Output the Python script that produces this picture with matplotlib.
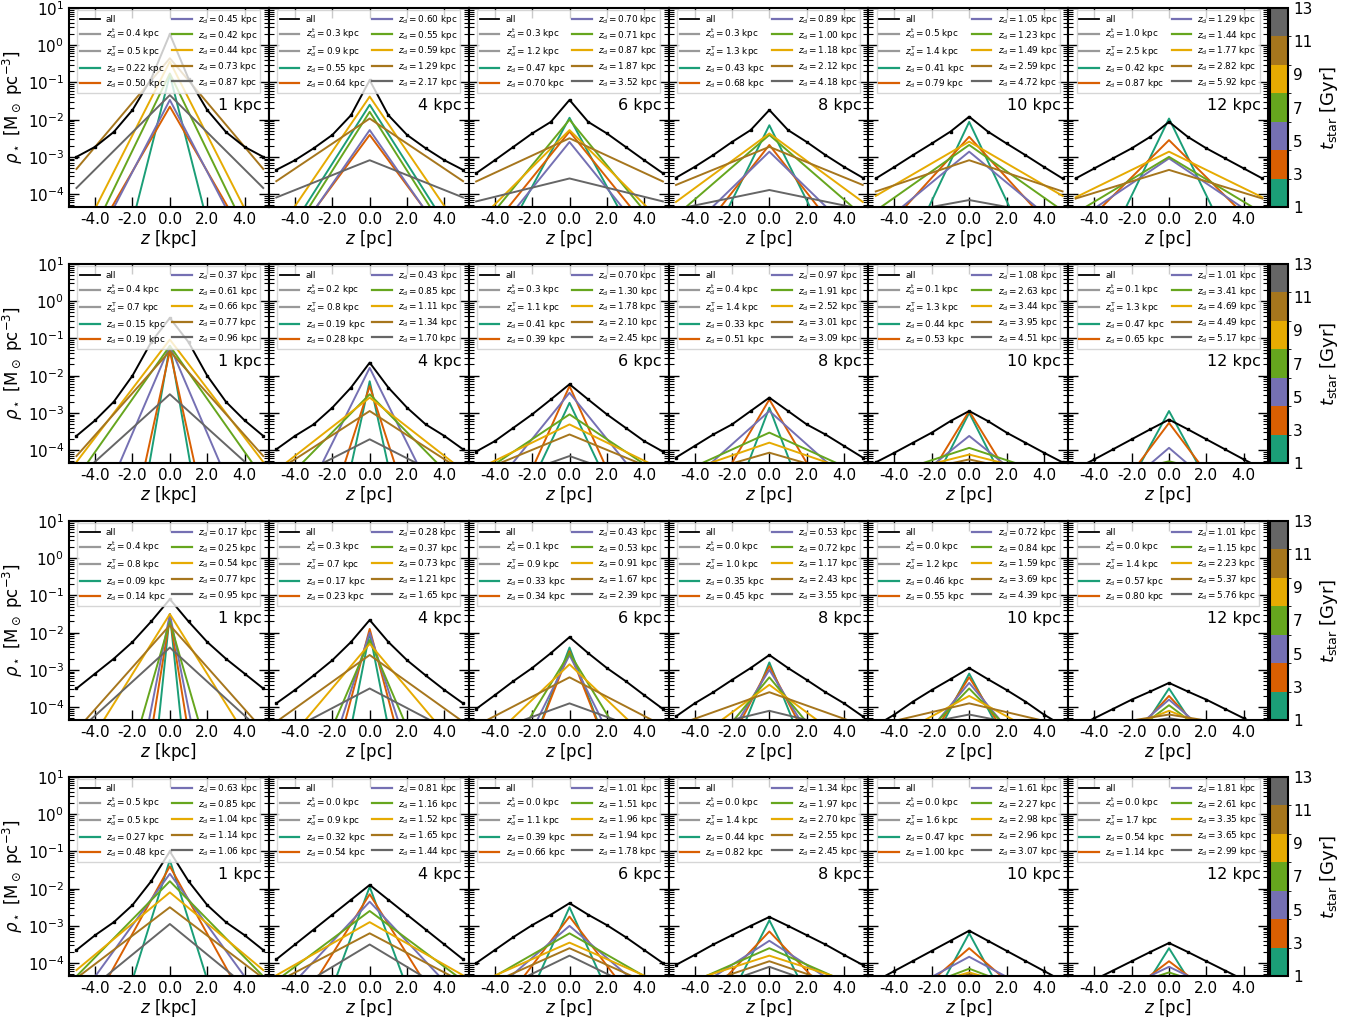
import numpy as np
import matplotlib.pyplot as plt
import matplotlib as mpl
from matplotlib.lines import Line2D
from matplotlib.colors import ListedColormap, BoundaryNorm
from matplotlib.ticker import LogLocator, FormatStrFormatter, NullFormatter

# couleurs des tranches d'age (Dark2)
age_colors = ["#1b9e77", "#d95f02", "#7570b3", "#66a61e", "#e6ab02", "#a6761d", "#666666"]
fit_gray = "#999999"
age_edges = [1, 2.714, 4.429, 6.143, 7.857, 9.571, 11.286, 13]
age_ticks = [1, 3, 5, 7, 9, 11, 13]

radii = ["1 kpc", "4 kpc", "6 kpc", "8 kpc", "10 kpc", "12 kpc"]

# echelles de hauteur fine / epaisse (legende)
zt_thin = [
    [0.4, 0.3, 0.3, 0.3, 0.5, 1.0],
    [0.4, 0.2, 0.3, 0.4, 0.1, 0.1],
    [0.4, 0.3, 0.1, 0.0, 0.0, 0.0],
    [0.5, 0.0, 0.0, 0.0, 0.0, 0.0],
]
zt_thick = [
    [0.5, 0.9, 1.2, 1.3, 1.4, 2.5],
    [0.7, 0.8, 1.1, 1.4, 1.3, 1.3],
    [0.8, 0.7, 0.9, 1.0, 1.2, 1.4],
    [0.5, 0.9, 1.1, 1.4, 1.6, 1.7],
]

# z_d par tranche d'age [kpc]
zd_row1 = [
    [0.22, 0.50, 0.45, 0.42, 0.44, 0.73, 0.87],
    [0.55, 0.64, 0.60, 0.55, 0.59, 1.29, 2.17],
    [0.47, 0.70, 0.70, 0.71, 0.87, 1.87, 3.52],
    [0.43, 0.68, 0.89, 1.00, 1.18, 2.12, 4.18],
    [0.41, 0.79, 1.05, 1.23, 1.49, 2.59, 4.72],
    [0.42, 0.87, 1.29, 1.44, 1.77, 2.82, 5.92],
]
zd_row2 = [
    [0.15, 0.19, 0.37, 0.61, 0.66, 0.77, 0.96],
    [0.19, 0.28, 0.43, 0.85, 1.11, 1.34, 1.70],
    [0.41, 0.39, 0.70, 1.30, 1.78, 2.10, 2.45],
    [0.33, 0.51, 0.97, 1.91, 2.52, 3.01, 3.09],
    [0.44, 0.53, 1.08, 2.63, 3.44, 3.95, 4.51],
    [0.47, 0.65, 1.01, 3.41, 4.69, 4.49, 5.17],
]
zd_row3 = [
    [0.09, 0.14, 0.17, 0.25, 0.54, 0.77, 0.95],
    [0.17, 0.23, 0.28, 0.37, 0.73, 1.21, 1.65],
    [0.33, 0.34, 0.43, 0.53, 0.91, 1.67, 2.39],
    [0.35, 0.45, 0.53, 0.72, 1.17, 2.43, 3.55],
    [0.46, 0.55, 0.72, 0.84, 1.59, 3.69, 4.39],
    [0.57, 0.80, 1.01, 1.15, 2.23, 5.37, 5.76],
]
zd_row4 = [
    [0.27, 0.48, 0.63, 0.85, 1.04, 1.14, 1.06],
    [0.32, 0.54, 0.81, 1.16, 1.52, 1.65, 1.44],
    [0.39, 0.66, 1.01, 1.51, 1.96, 1.94, 1.78],
    [0.44, 0.82, 1.34, 1.97, 2.70, 2.55, 2.45],
    [0.47, 1.00, 1.61, 2.27, 2.98, 2.96, 3.07],
    [0.54, 1.14, 1.81, 2.61, 3.35, 3.65, 2.99],
]

# log10 de la densite centrale par tranche d'age
peak_row1 = [
    [-0.8, -1.65, -1.47, -0.76, -0.44, -0.35, -1.34],
    [-1.6, -2.41, -2.28, -1.79, -1.38, -1.97, -3.09],
    [-1.95, -2.32, -2.60, -2.00, -2.28, -2.50, -3.58],
    [-2.15, -2.68, -2.86, -2.41, -2.37, -2.73, -3.89],
    [-2.06, -2.46, -2.86, -2.68, -2.59, -3.09, -4.16],
    [-1.97, -2.55, -3.04, -3.00, -2.86, -3.35, -4.50],
]
peak_row2 = [
    [-1.20, -1.34, -1.20, -1.20, -1.03, -1.34, -2.50],
    [-2.15, -2.28, -1.79, -2.50, -2.59, -2.95, -3.71],
    [-2.73, -2.28, -2.46, -3.04, -3.31, -3.58, -4.16],
    [-2.86, -2.64, -2.95, -3.53, -3.80, -4.07, -4.50],
    [-3.00, -2.95, -3.62, -3.94, -4.12, -4.25, -4.50],
    [-2.95, -3.27, -3.94, -4.30, -4.50, -4.50, -4.60],
]
peak_row3 = [
    [-1.50, -1.60, -1.50, -1.70, -1.50, -1.80, -2.40],
    [-2.00, -1.90, -2.00, -2.20, -2.30, -2.60, -3.50],
    [-2.40, -2.50, -2.60, -2.55, -2.85, -3.20, -3.90],
    [-2.80, -2.90, -3.00, -3.20, -3.40, -3.60, -4.10],
    [-3.10, -3.20, -3.35, -3.50, -3.70, -3.90, -4.20],
    [-3.50, -3.70, -3.80, -3.95, -4.10, -4.20, -4.30],
]
peak_row4 = [
    [-1.23, -1.40, -1.60, -1.80, -2.10, -2.50, -2.95],
    [-1.95, -2.15, -2.35, -2.60, -2.90, -3.20, -3.50],
    [-2.50, -2.75, -3.00, -3.20, -3.45, -3.60, -3.80],
    [-2.85, -3.15, -3.40, -3.60, -3.80, -3.95, -4.10],
    [-3.20, -3.60, -3.83, -4.15, -4.25, -4.30, -4.40],
    [-3.60, -3.95, -4.10, -4.25, -4.35, -4.40, -4.50],
]

# profil "all" : log10 rho a |z| = 0, 1, 2, 3, 4, 5 kpc
z_all = [0, 1, 2, 3, 4, 5]
all_row1 = [
    [0.30, -0.90, -1.74, -2.33, -2.73, -3.00],
    [-0.94, -1.88, -2.41, -2.77, -3.09, -3.35],
    [-1.47, -2.06, -2.37, -2.73, -3.09, -3.44],
    [-1.74, -2.28, -2.60, -2.95, -3.27, -3.56],
    [-1.92, -2.32, -2.64, -2.95, -3.27, -3.58],
    [-2.06, -2.46, -2.77, -3.04, -3.31, -3.58],
]
all_row2 = [
    [-0.45, -1.10, -2.00, -2.70, -3.20, -3.62],
    [-1.65, -2.32, -2.86, -3.31, -3.62, -3.98],
    [-2.23, -2.64, -3.04, -3.40, -3.76, -4.04],
    [-2.59, -2.95, -3.31, -3.58, -3.89, -4.20],
    [-2.95, -3.22, -3.53, -3.80, -4.07, -4.33],
    [-3.18, -3.44, -3.71, -3.98, -4.25, -4.50],
]
all_row3 = [
    [-1.10, -1.70, -2.25, -2.70, -3.10, -3.50],
    [-1.66, -2.25, -2.74, -3.15, -3.54, -3.90],
    [-2.12, -2.55, -2.95, -3.30, -3.68, -4.05],
    [-2.60, -2.95, -3.27, -3.60, -3.90, -4.25],
    [-2.95, -3.25, -3.54, -3.85, -4.20, -4.50],
    [-3.35, -3.58, -3.80, -4.05, -4.30, -4.55],
]
all_row4 = [
    [-1.00, -1.80, -2.44, -2.90, -3.25, -3.65],
    [-1.90, -2.30, -2.70, -3.10, -3.50, -3.90],
    [-2.39, -2.70, -2.98, -3.30, -3.65, -4.00],
    [-2.76, -3.00, -3.25, -3.50, -3.78, -4.05],
    [-3.13, -3.40, -3.67, -3.94, -4.21, -4.48],
    [-3.46, -3.70, -3.95, -4.20, -4.45, -4.70],
]

zd_rows = [zd_row1, zd_row2, zd_row3, zd_row4]
peak_rows = [peak_row1, peak_row2, peak_row3, peak_row4]
all_rows = [all_row1, all_row2, all_row3, all_row4]


def draw_panel(ax, r, c):
    zmax = z_all[-1]
    # profils par tranche d'age : exponentielle -> droite en log
    for k in range(7):
        zd = zd_rows[r][c][k]
        peak = 10 ** peak_rows[r][c][k]
        edge = peak * np.exp(-zmax / zd)
        ax.plot([-zmax, 0, zmax], [edge, peak, edge], color=age_colors[k], lw=1.4, zorder=2)

    vals = all_rows[r][c]
    zz = [-z for z in z_all[::-1]] + z_all[1:]
    rho = [10 ** v for v in vals[::-1]] + [10 ** v for v in vals[1:]]
    ax.plot(zz, rho, color="k", lw=1.4, marker="s", ms=1.8, zorder=3)

    handles = [Line2D([], [], color="k", lw=1.3),
               Line2D([], [], color=fit_gray, lw=1.6),
               Line2D([], [], color=fit_gray, lw=1.6)]
    labels = ["all",
              r"$z_{\rm d}^{\rm t} = %.1f$ kpc" % zt_thin[r][c],
              r"$z_{\rm d}^{\rm T} = %.1f$ kpc" % zt_thick[r][c]]
    for k in range(7):
        handles.append(Line2D([], [], color=age_colors[k], lw=1.6))
        labels.append(r"$z_{\rm d} = %.2f$ kpc" % zd_rows[r][c][k])
    leg = ax.legend(handles, labels, loc="upper center", ncol=2, fontsize=6.4,
                    borderaxespad=0.25, columnspacing=0.8, handlelength=2.2,
                    handletextpad=0.7, labelspacing=0.3, borderpad=0.3,
                    fancybox=False, edgecolor="0.8", framealpha=0.8)
    leg.set_zorder(5)

    ax.text(0.965, 0.51, radii[c], transform=ax.transAxes, ha="right", va="center",
            fontsize=11.5, zorder=6)

    ax.set_yscale("log")
    ax.set_xlim(-5.4, 5.3)
    ax.set_ylim(4.5e-5, 10)
    ax.set_xticks([-4, -2, 0, 2, 4])
    ax.xaxis.set_major_formatter(FormatStrFormatter("%.1f"))
    ax.yaxis.set_major_locator(LogLocator(base=10, numticks=20))
    ax.yaxis.set_minor_locator(LogLocator(base=10, subs=np.arange(2, 10), numticks=20))
    ax.yaxis.set_minor_formatter(NullFormatter())
    ax.tick_params(which="both", direction="in", top=True, right=True, labelsize=11)
    ax.tick_params(which="major", length=7, width=1)
    ax.tick_params(which="minor", length=3.5, width=0.8)
    for sp in ax.spines.values():
        sp.set_linewidth(1.5)

    if c == 0:
        ax.set_xlabel(r"$z$ [kpc]", fontsize=12, labelpad=1)
        ax.set_ylabel(r"$\rho_\star$ [M$_\odot$ pc$^{-3}$]", fontsize=12, labelpad=2)
    else:
        ax.set_xlabel(r"$z$ [pc]", fontsize=12, labelpad=1)
        ax.yaxis.set_major_formatter(NullFormatter())


fig = plt.figure(figsize=(13.6, 10.25), dpi=100)
W, H = 1360.0, 1025.0
left = 69 / W
pw = (1268 - 69) / W / 6
ph = 199 / H
tops = [8, 264, 521, 777]

cmap = ListedColormap(age_colors)
norm = BoundaryNorm(age_edges, cmap.N)

for r in range(4):
    bottom = 1 - (tops[r] + 199) / H
    for c in range(6):
        ax = fig.add_axes([left + c * pw, bottom, pw, ph])
        draw_panel(ax, r, c)
    cax = fig.add_axes([1270 / W, bottom, 18 / W, ph])
    cb = fig.colorbar(mpl.cm.ScalarMappable(norm=norm, cmap=cmap), cax=cax, ticks=age_ticks)
    cb.ax.tick_params(labelsize=11, length=0)
    cb.outline.set_linewidth(1.5)
    cb.set_label(r"$t_{\rm star}$ [Gyr]", fontsize=13)

fig.savefig("out.png", dpi=100)
